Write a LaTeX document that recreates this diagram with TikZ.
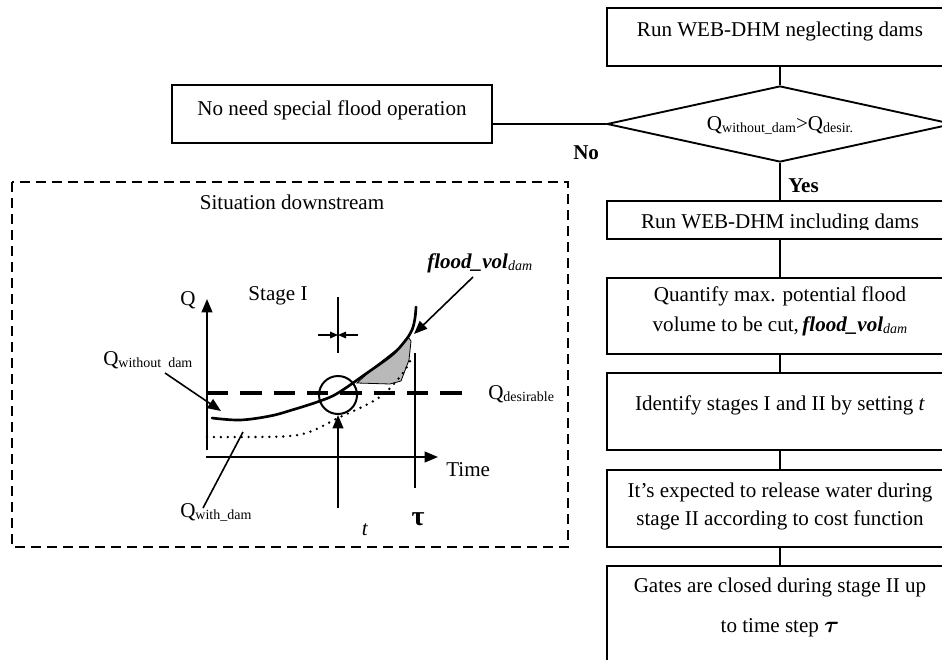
\documentclass[tikz,border=0pt]{standalone}
\usepackage{fontspec}
\setmainfont{Liberation Serif}
\usetikzlibrary{shapes.geometric,arrows.meta}
\newcommand\sbs[1]{\raisebox{-0.3ex}{\fontsize{10.5}{12}\selectfont #1}}
\begin{document}
\begin{tikzpicture}[x=0.75pt,y=-0.75pt,
  font=\fontsize{15.8}{19}\selectfont,
  box/.style={draw,line width=1.4pt,inner sep=0pt,minimum width=259.5pt},
  txt/.style={align=center,inner sep=0pt,anchor=base},
  txtl/.style={inner sep=0pt,anchor=base west},
  conn/.style={line width=1.4pt},
  ax/.style={line width=1.5pt},
  tip/.style={-{Triangle[length=10pt,width=8pt]}},
  smalltip/.style={-{Triangle[length=6pt,width=5pt]}}]
\useasboundingbox (0,0) rectangle (942,660);
\clip (0,0) rectangle (942,660);
% ---------- flowchart ----------
\node[box,minimum height=43.5pt] (b1) at (780,37) {};
\node[txt] (t1) at (780,37) {Run WEB-DHM neglecting dams};
\node[diamond,draw,line width=1.4pt,aspect=4.55,minimum width=259.5pt,minimum height=57pt,inner sep=0pt] (d) at (780,124) {};
\node[txt] (td) at (780,130) {Q\sbs{without\_dam}>Q\sbs{desir.}};
\node[box,minimum height=28.5pt] (b2) at (780,220) {};
\begin{scope}
\clip (607,201) rectangle (953,229.5);
\node[txt] (t2) at (780,228) {Run WEB-DHM including dams};
\end{scope}
\node[box,minimum height=57pt] (b3) at (780,316) {};
\node[txt] (t3) at (780,331) {Quantify max. potential flood\\[3pt]volume to be cut,\,\textbf{\textit{flood\_vol}}\sbs{\textit{dam}}};
\node[box,minimum height=57.75pt] (b4) at (780,411.5) {};
\node[txt] (t4) at (780,410) {Identify stages I and II by setting \textit{t}};
\node[box,minimum height=57.75pt] (b5) at (780,508.5) {};
\node[txt] (t5) at (780,525) {It's expected to release water during\\[2pt]stage II according to cost function};
\node[box,minimum height=100.5pt] (b6) at (780,633) {};
\node[txt] (t6) at (780,632) {Gates are closed during stage II up\\[11pt]to time step {\fontsize{19}{19}\selectfont\boldmath$\tau$}};
\node[box,minimum width=240pt,minimum height=43.5pt] (nb) at (332,114) {};
\node[txt] (nt) at (332,115) {No need special flood operation};
\draw[conn] (b1.south) -- (d.north);
\draw[conn] (d.south) -- (b2.north);
\draw[conn] (b2.south) -- (b3.north);
\draw[conn] (b3.south) -- (b4.north);
\draw[conn] (b4.south) -- (b5.north);
\draw[conn] (b5.south) -- (b6.north);
\draw[conn] (d.west) -- (d.west -| nb.east);
\node[txtl] (yes) at (788,192) {\textbf{Yes}};
\node[txtl] (no) at (573,159) {\textbf{No}};
% ---------- downstream situation ----------
\draw[line width=1.2pt,dash pattern=on 7.5pt off 4.5pt] (12,182) rectangle (568,547);
\node[txt] (sit) at (292,209) {Situation downstream};
\coordinate (ybot) at (207,450);
\coordinate (ytop) at (207,299);
\draw[ax,tip] (ybot) -- (ytop);
\coordinate (xl) at (206,457);
\coordinate (xr) at (438,457);
\draw[ax,tip] (xl) -- (xr);
\node[txt] (ql) at (188,305) {Q};
\node[txt] (st) at (278,300) {Stage I};
\node[txtl] (tm) at (446,476) {Time};
% desirable level
\coordinate (dl) at (207,393);
\coordinate (dr) at (473,393);
\draw[line width=3.6pt,dash pattern=on 16pt off 9pt] (dl) -- (dr);
\node[txtl] (qd) at (488,399) {Q\sbs{desirable}};
% shaded area
\fill[gray!55,draw=black,line width=0.6pt] (357,383) -- (377,365) -- (400,347) -- (408,337) -- (411,341) -- (409,360) -- (401,381) -- (390,384) -- cycle;
% curves
\draw[line width=2pt,line cap=round] plot[smooth,tension=0.6] coordinates {(212,418) (240,420) (270,416) (292,410) (320,401) (338,393) (367,373) (392,355) (405,341) (412,330) (415,318) (416,307)};
\draw[line width=2pt,line cap=round,dash pattern=on 0pt off 5.2pt] plot[smooth,tension=0.6] coordinates {(207,437) (250,437) (290,436) (312,431) (338,418) (362,407) (380,397) (393,385) (405,370) (412,357)};
% circle and t
\node[circle,draw,line width=1.5pt,minimum size=28.5pt,inner sep=0pt] (cir) at (338,395) {};
\coordinate (tb) at (338,508);
\draw[ax,tip] (tb) -- (cir.south);
\node[txt] (tl) at (365,535) {\textit{t}};
% tau line
\coordinate (tau1) at (415,353);
\coordinate (tau2) at (415,488);
\draw[ax] (tau1) -- (tau2);
\node[txt] (taul) at (418,525) {\fontsize{21}{21}\selectfont\textbf{τ}};
% stage marker
\coordinate (sm1) at (338,297);
\coordinate (sm2) at (338,353);
\draw[line width=1pt] (sm1) -- (sm2);
\coordinate (sa1) at (318,335);
\coordinate (sa2) at (358,335);
\coordinate (sam) at (338,335);
\draw[line width=0.8pt,smalltip] (sa1) -- (sam);
\draw[line width=0.8pt,smalltip] (sa2) -- (sam);
% labels with pointers
\node[txtl] (qwo) at (103,365) {Q\sbs{without~~dam}};
\coordinate (qwo1) at (165,373);
\coordinate (qwo2) at (221,411);
\draw[line width=1.2pt,tip] (qwo1) -- (qwo2);
\node[txtl] (fv) at (427,268) {\textbf{\textit{flood\_vol}}\sbs{\textit{dam}}};
\coordinate (fv1) at (473,277);
\coordinate (fv2) at (414,334);
\draw[line width=1.2pt,tip] (fv1) -- (fv2);
\node[txtl] (qwd) at (180,517) {Q\sbs{with\_dam}};
\coordinate (qwd1) at (203,508);
\coordinate (qwd2) at (243,432);
\draw[line width=1.2pt] (qwd1) -- (qwd2);
\end{tikzpicture}
\end{document}
